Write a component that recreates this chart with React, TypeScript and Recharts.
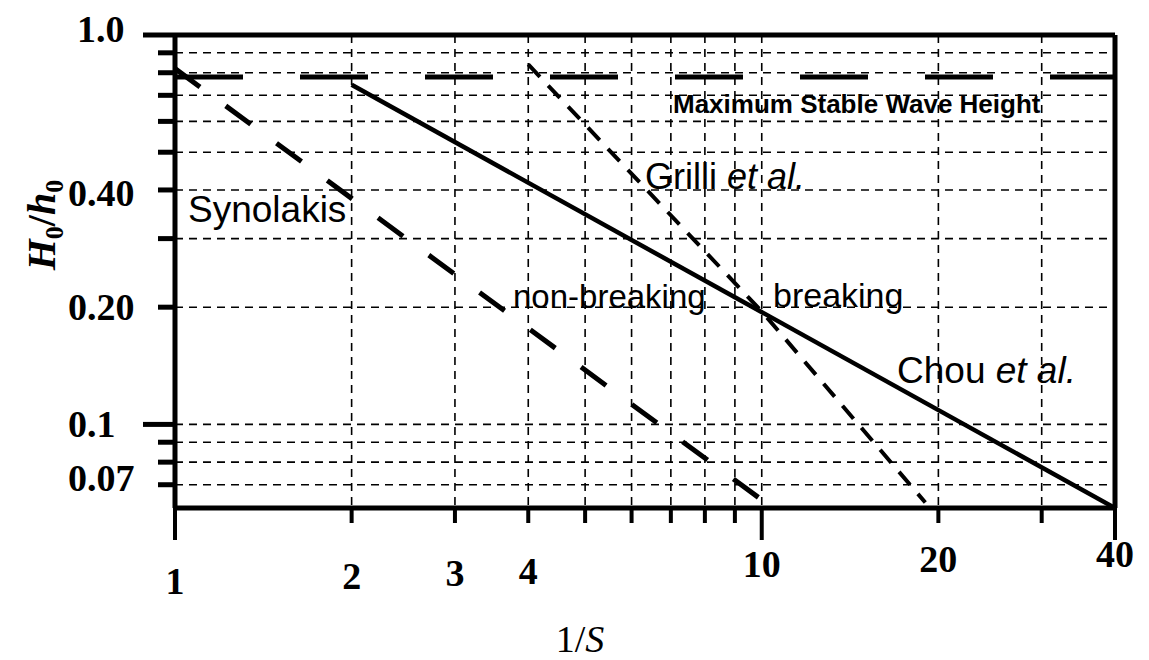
import React from "react";
import {
  LineChart,
  Line,
  XAxis,
  YAxis,
  CartesianGrid,
  ReferenceLine,
} from "recharts";

// axes (log-log)
const xTicks = [1, 2, 3, 4, 5, 6, 7, 8, 9, 10, 20, 30, 40];
const xTickLabels: Record<string, string> = {
  "1": "1",
  "2": "2",
  "3": "3",
  "4": "4",
  "10": "10",
  "20": "20",
  "40": "40",
};
const yTicks = [0.07, 0.08, 0.09, 0.1, 0.2, 0.3, 0.4, 0.5, 0.6, 0.7, 0.8, 0.9, 1.0];
const yTickLabels: Record<string, string> = {
  "1": "1.0",
  "0.4": "0.40",
  "0.2": "0.20",
  "0.1": "0.1",
  "0.07": "0.07",
};

// curves (x = 1/S, y = H0/h0)
const chouEtAl = [
  { x: 2, y: 0.745 },
  { x: 40, y: 0.061 },
];
const synolakis = [
  { x: 1, y: 0.82 },
  { x: 10, y: 0.064 },
];
const grilliEtAl = [
  { x: 4, y: 0.84 },
  { x: 10, y: 0.195 },
  { x: 19, y: 0.063 },
];
const maxStableWave = [
  { x: 1, y: 0.78 },
  { x: 40, y: 0.78 },
];

const SERIF = "'Liberation Serif', 'Times New Roman', serif";
const SANS = "'Liberation Sans', Arial, sans-serif";

const XTick = (props: any) => {
  const { x, y, payload } = props;
  const v = payload.value;
  const long = v === 1 || v === 10 || v === 40;
  const label = xTickLabels[String(v)];
  // labels drift upward to the right in the scanned original
  const base = y + 86 - (x - 175) * 0.029;
  return (
    <g>
      <line x1={x} x2={x} y1={y} y2={y + (long ? 32 : 15)} stroke="#000" strokeWidth={4} />
      {label && (
        <text x={x} y={base} textAnchor="middle" fontFamily={SERIF} fontWeight={700} fontSize={38} fill="#000">
          {label}
        </text>
      )}
    </g>
  );
};

const YTick = (props: any) => {
  const { x, y, payload } = props;
  const v = payload.value;
  const len = v === 0.1 || v === 1 ? 32 : 17;
  const label = yTickLabels[String(v)];
  const nudge = v === 1 ? -6 : v === 0.07 ? -7 : v === 0.4 ? 3 : 0;
  return (
    <g>
      <line x1={x - len} x2={x} y1={y} y2={y} stroke="#000" strokeWidth={5} />
      {label && (
        <text
          x={x - 107 + (v === 1 ? 9 : 0)}
          y={y + 13 + nudge}
          textAnchor="start"
          fontFamily={SERIF}
          fontWeight={700}
          fontSize={38}
          fill="#000"
        >
          {label}
        </text>
      )}
    </g>
  );
};

export default function App() {
  return (
    <div style={{ position: "absolute", left: 0, top: 0, width: 1149, height: 660, background: "#fff" }}>
      <LineChart width={1149} height={660} margin={{ top: 35, right: 34, bottom: 92, left: 115 }}>
        <CartesianGrid stroke="#000" strokeWidth={1.6} strokeDasharray="8 6" />
        <XAxis
          dataKey="x"
          type="number"
          scale="log"
          domain={[1, 40]}
          allowDataOverflow
          ticks={xTicks}
          interval={0}
          height={60}
          tickSize={0}
          tickMargin={0}
          tickLine={false}
          axisLine={{ stroke: "#000", strokeWidth: 5 }}
          tick={<XTick />}
        />
        <YAxis
          dataKey="y"
          type="number"
          scale="log"
          domain={[0.061, 1]}
          allowDataOverflow
          ticks={yTicks}
          interval={0}
          width={60}
          tickSize={0}
          tickMargin={0}
          tickLine={false}
          axisLine={{ stroke: "#000", strokeWidth: 5 }}
          tick={<YTick />}
        />
        <ReferenceLine y={1} stroke="#000" strokeWidth={5} />
        <ReferenceLine x={40} stroke="#000" strokeWidth={5} />
        <Line
          data={maxStableWave}
          dataKey="y"
          stroke="#000"
          strokeWidth={5}
          strokeDasharray="68 57"
          dot={false}
          activeDot={false}
          isAnimationActive={false}
        />
        <Line
          data={synolakis}
          dataKey="y"
          stroke="#000"
          strokeWidth={5}
          strokeDasharray="31 32"
          dot={false}
          activeDot={false}
          isAnimationActive={false}
        />
        <Line
          data={grilliEtAl}
          dataKey="y"
          stroke="#000"
          strokeWidth={4}
          strokeDasharray="17 12"
          dot={false}
          activeDot={false}
          isAnimationActive={false}
        />
        <Line
          data={chouEtAl}
          dataKey="y"
          stroke="#000"
          strokeWidth={4.5}
          dot={false}
          activeDot={false}
          isAnimationActive={false}
        />
      </LineChart>
      <svg
        width={1149}
        height={660}
        style={{ position: "absolute", left: 0, top: 0, pointerEvents: "none" }}
      >
        <text x={673} y={113} fontFamily={SANS} fontWeight={700} fontSize={26} fill="#000">
          Maximum Stable Wave Height
        </text>
        <text x={188} y={222} fontFamily={SANS} fontSize={37} fill="#000">
          Synolakis
        </text>
        <text x={645} y={189} fontFamily={SANS} fontSize={36} fill="#000">
          Grilli <tspan fontStyle="italic">et al.</tspan>
        </text>
        <text x={513} y={308} fontFamily={SANS} fontSize={33} fill="#000">
          non-breaking
        </text>
        <text x={773} y={307} fontFamily={SANS} fontSize={34} fill="#000">
          breaking
        </text>
        <text x={897} y={383} fontFamily={SANS} fontSize={37} fill="#000">
          Chou <tspan fontStyle="italic">et al.</tspan>
        </text>
        <text
          x={55}
          y={225}
          transform="rotate(-90 55 225)"
          textAnchor="middle"
          fontFamily={SERIF}
          fontWeight={700}
          fontSize={40}
          fill="#000"
        >
          <tspan fontStyle="italic">H</tspan>
          <tspan fontSize={26} dy={8}>0</tspan>
          <tspan dy={-8}>/</tspan>
          <tspan fontStyle="italic">h</tspan>
          <tspan fontSize={26} dy={8}>0</tspan>
        </text>
        <text x={580} y={652} textAnchor="middle" fontFamily={SERIF} fontSize={38} fill="#000">
          1/<tspan fontStyle="italic">S</tspan>
        </text>
      </svg>
    </div>
  );
}
